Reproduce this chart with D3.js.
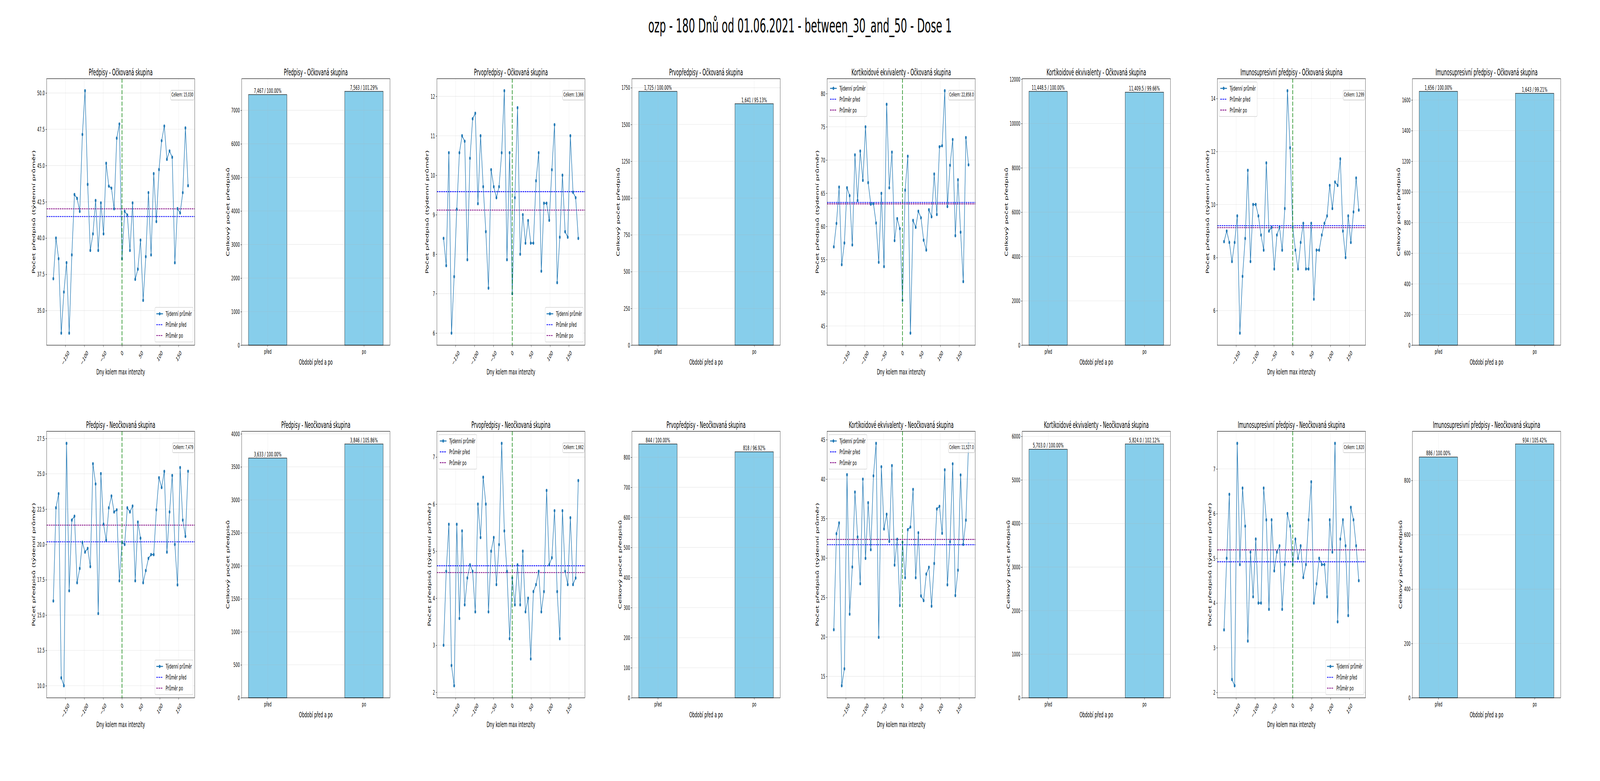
<!DOCTYPE html>
<html>
<head>
<meta charset="utf-8">
<script src="https://cdn.jsdelivr.net/npm/d3@7"></script>
<style>
  html, body { margin: 0; padding: 0; width: 100%; height: 100%; overflow: hidden; background: #fff; }
  #chart { width: 100vw; height: 100vh; }
  svg { display: block; }
  svg text { font-family: "DejaVu Sans", sans-serif; fill: #000; }
</style>
</head>
<body>
<div id="chart"></div>
<script>
// ---- data ----
var SUPTITLE = "ozp - 180 Dnů od 01.06.2021 - between_30_and_50 - Dose 1";
var METRICS = ["Předpisy", "Prvopředpisy", "Kortikoidové ekvivalenty", "Imunosupresivní předpisy"];
var GROUPS = ["Očkovaná skupina", "Neočkovaná skupina"];
var PERIODS = ["před", "po"];
var PERIOD_DAYS = 180;

// days relative to max intensity (weekly points)
var DAYS = [-182, -175, -168, -161, -154, -147, -140, -133, -126, -119, -112, -105, -98,
            -91, -84, -77, -70, -63, -56, -49, -42, -35, -28, -21, -14, -7,
            0, 7, 14, 21, 28, 35, 42, 49, 56, 63, 70, 77, 84, 91, 98, 105, 112,
            119, 126, 133, 140, 147, 154, 161, 168, 175];

// weekly averages - vaccinated group
var predpisyOck = [37.2, 40.0, 38.58, 33.45, 36.28, 38.3, 33.45, 38.84, 43.0, 42.73, 41.84, 47.14, 50.15,
  43.7, 39.15, 40.29, 42.59, 39.15, 42.42, 40.29, 45.15, 43.58, 43.44, 42.02, 46.88, 47.86,
  38.58, 41.85, 41.59, 39.15, 42.42, 37.16, 37.86, 39.86, 35.71, 38.72, 43.13, 38.84, 44.44,
  41.14, 44.72, 46.71, 47.72, 45.43, 46.0, 45.57, 38.3, 42.03, 41.73, 43.13, 47.59, 43.61];
var prvoOck = [8.40, 7.71, 10.57, 6.0, 7.43, 9.14, 10.57, 11.0, 10.86, 7.86, 10.43, 11.43, 11.57,
  9.28, 11.0, 9.71, 8.57, 7.14, 10.14, 9.71, 9.43, 9.71, 10.57, 12.14, 7.86, 10.57,
  7.0, 9.43, 11.71, 8.0, 9.0, 8.28, 8.85, 8.28, 8.28, 9.86, 10.57, 7.57, 9.29,
  9.29, 8.86, 10.14, 11.28, 7.28, 8.43, 10.0, 8.57, 8.43, 11.0, 9.57, 9.43, 8.4];
var kortOck = [56.92, 60.45, 65.91, 54.24, 57.5, 65.81, 64.62, 57.21, 70.76, 63.9, 71.34, 66.94, 74.99,
  66.59, 63.35, 63.42, 60.51, 54.6, 64.97, 53.95, 78.38, 65.81, 71.18, 57.86, 61.16, 59.67,
  48.88, 65.46, 70.56, 43.93, 60.9, 59.86, 62.29, 61.29, 57.93, 56.44, 62.51, 61.45, 67.88,
  61.8, 71.98, 72.15, 80.42, 63.0, 69.2, 73.08, 58.6, 67.01, 59.12, 51.69, 73.37, 69.27];
var imunoOck = [8.60, 9.0, 8.57, 7.85, 8.57, 9.57, 5.15, 7.29, 8.72, 11.29, 7.85, 10.0, 10.0,
  9.57, 8.85, 8.28, 11.57, 9.0, 9.14, 7.57, 8.85, 9.14, 8.28, 9.85, 14.29, 12.14,
  9.14, 8.28, 7.57, 8.57, 9.29, 7.57, 7.57, 9.29, 6.43, 8.28, 8.28, 8.85, 9.29,
  9.57, 10.72, 9.85, 10.85, 10.72, 11.72, 9.0, 8.0, 9.57, 8.57, 9.72, 11.0, 9.79];

// weekly averages - unvaccinated group
var predpisyNeock = [16.0, 22.59, 23.59, 10.56, 10.0, 27.15, 16.72, 21.72, 22.0, 17.29, 18.3, 20.15, 19.46,
  19.72, 18.43, 25.71, 24.28, 15.11, 25.01, 21.44, 20.3, 22.59, 23.43, 22.3, 22.45, 17.43,
  20.15, 20.0, 22.59, 22.3, 22.72, 17.43, 21.58, 20.44, 17.29, 18.15, 19.01, 19.28, 19.28,
  22.45, 24.72, 24.03, 25.17, 19.46, 22.3, 24.88, 20.0, 17.14, 25.44, 21.72, 20.57, 25.18];
var prvoNeock = [3.0, 4.57, 5.57, 2.57, 2.14, 5.57, 3.57, 5.43, 3.86, 4.43, 4.71, 4.57, 3.71,
  6.0, 5.29, 6.57, 6.0, 3.71, 5.0, 5.29, 4.29, 5.14, 7.29, 5.43, 4.57, 3.14,
  4.43, 3.86, 4.71, 3.86, 5.0, 3.71, 4.0, 2.71, 4.14, 4.29, 4.57, 3.71, 4.14,
  6.29, 4.71, 4.86, 5.86, 4.14, 3.14, 5.86, 4.57, 4.29, 5.71, 4.29, 4.43, 6.5];
var kortNeock = [20.92, 33.08, 34.44, 13.82, 15.96, 40.55, 22.89, 28.86, 38.35, 32.66, 26.75, 39.99, 29.96,
  37.0, 31.06, 40.41, 44.52, 19.96, 41.56, 33.68, 35.54, 32.1, 41.7, 29.11, 32.38, 23.99,
  32.0, 27.51, 33.59, 33.93, 38.69, 27.51, 33.2, 25.2, 24.61, 27.96, 28.83, 23.9, 29.31,
  36.21, 36.55, 33.14, 41.17, 26.61, 32.07, 41.93, 25.25, 28.46, 40.52, 31.73, 34.8, 44.44];
var imunoNeock = [3.40, 5.0, 6.43, 2.29, 2.15, 7.57, 4.86, 6.57, 5.72, 3.15, 5.14, 4.14, 5.43,
  4.0, 4.0, 6.57, 5.86, 3.86, 5.86, 4.72, 5.14, 5.28, 3.86, 4.86, 6.0, 5.72,
  4.86, 5.43, 5.0, 5.28, 4.57, 4.86, 5.86, 6.71, 4.0, 4.43, 5.0, 4.86, 4.86,
  4.14, 5.86, 5.14, 7.57, 3.58, 5.43, 5.86, 5.28, 3.72, 6.14, 5.86, 5.28, 4.5];

// totals before / after
var totPredpisyOck = [7467, 7563];
var totPrvoOck = [1725, 1641];
var totKortOck = [11448.5, 11409.5];
var totImunoOck = [1656, 1643];
var totPredpisyNeock = [3633, 3846];
var totPrvoNeock = [844, 818];
var totKortNeock = [5703.0, 5824.0];
var totImunoNeock = [886, 934];

// tick values
var X_TICKS = [-150, -100, -50, 0, 50, 100, 150];
var yTicksPredpisyOck = [35, 37.5, 40, 42.5, 45, 47.5, 50];
var yTicksPrvoOck = [6, 7, 8, 9, 10, 11, 12];
var yTicksKortOck = [45, 50, 55, 60, 65, 70, 75, 80];
var yTicksImunoOck = [6, 8, 10, 12, 14];
var yTicksPredpisyNeock = [10, 12.5, 15, 17.5, 20, 22.5, 25, 27.5];
var yTicksPrvoNeock = [2, 3, 4, 5, 6, 7];
var yTicksKortNeock = [15, 20, 25, 30, 35, 40, 45];
var yTicksImunoNeock = [2, 3, 4, 5, 6, 7];
var barTicksPredpisyOck = [0, 1000, 2000, 3000, 4000, 5000, 6000, 7000];
var barTicksPrvoOck = [0, 250, 500, 750, 1000, 1250, 1500, 1750];
var barTicksKortOck = [0, 2000, 4000, 6000, 8000, 10000, 12000];
var barTicksImunoOck = [0, 200, 400, 600, 800, 1000, 1200, 1400, 1600];
var barTicksPredpisyNeock = [0, 500, 1000, 1500, 2000, 2500, 3000, 3500, 4000];
var barTicksPrvoNeock = [0, 100, 200, 300, 400, 500, 600, 700, 800];
var barTicksKortNeock = [0, 1000, 2000, 3000, 4000, 5000, 6000];
var barTicksImunoNeock = [0, 200, 400, 600, 800];

var LEGEND_LABELS = ["Týdenní průměr", "Průměr před", "Průměr po"];

// per row, per metric
var WEEKLY = [[predpisyOck, prvoOck, kortOck, imunoOck],
              [predpisyNeock, prvoNeock, kortNeock, imunoNeock]];
var TOTALS = [[totPredpisyOck, totPrvoOck, totKortOck, totImunoOck],
              [totPredpisyNeock, totPrvoNeock, totKortNeock, totImunoNeock]];
var Y_TICKS = [[yTicksPredpisyOck, yTicksPrvoOck, yTicksKortOck, yTicksImunoOck],
               [yTicksPredpisyNeock, yTicksPrvoNeock, yTicksKortNeock, yTicksImunoNeock]];
var BAR_TICKS = [[barTicksPredpisyOck, barTicksPrvoOck, barTicksKortOck, barTicksImunoOck],
                 [barTicksPredpisyNeock, barTicksPrvoNeock, barTicksKortNeock, barTicksImunoNeock]];
var METRIC_DEC = [0, 0, 1, 0];
var LEGEND_POS = [["lower right", "lower right", "upper left", "upper left"],
                  ["lower right", "upper left", "upper left", "lower right"]];

// ---- layout / style ----
var FIG_W = 8000, FIG_H = 2000;
var PT = 100 / 72;
var AX_LEFT = 233, AX_STEP = 975.6, AX_W = 741, AX_H = 682.5;
var ROW_TOP = [201.5, 1104.5];
var TICK_LEN = 3.5 * PT, TICK_PAD = 3.5 * PT;
var TICK_FS = 12 * PT, LABEL_FS = 14 * PT, TITLE_FS = 16 * PT, SUP_FS = 36 * PT, BOX_FS = 10 * PT;
var SERIES_COLOR = "#1f77b4";
var LINE_W = 2.5, MEAN_W = 1.5 * PT, MEAN_DASH = "7.7,3.3";
var VLINE_W = 2 * PT, VLINE_DASH = "10.3,4.4";

// the drawing is laid out in 8000x2000 units and stretched onto the window
var svg = d3.select("#chart")
  .append("svg")
    .attr("width", "100%")
    .attr("height", "100%")
    .attr("viewBox", "0 0 " + FIG_W + " " + FIG_H)
    .attr("preserveAspectRatio", "none");

svg.append("rect")
    .attr("width", FIG_W)
    .attr("height", FIG_H)
    .attr("fill", "white");

svg.append("text")
    .attr("x", FIG_W / 2)
    .attr("y", 83)
    .attr("text-anchor", "middle")
    .style("font-size", SUP_FS + "px")
    .text(SUPTITLE);

function numFmt(dec) {
  return dec ? d3.format(",." + dec + "f") : d3.format(",");
}

function tickFmt(ticks) {
  var step = ticks[1] - ticks[0];
  return step % 1 === 0 ? d3.format("d") : d3.format(".1f");
}

// gridlines, frame, titles shared by both chart kinds
function drawGrid(g, x, y, xticks, yticks) {
  var grid = g.append("g")
      .attr("stroke", "#b0b0b0")
      .attr("stroke-opacity", 0.3)
      .attr("stroke-width", 0.8 * PT);
  grid.selectAll(".gx").data(xticks).enter().append("line")
      .attr("x1", function(d) { return x(d); })
      .attr("x2", function(d) { return x(d); })
      .attr("y1", 0).attr("y2", AX_H);
  grid.selectAll(".gy").data(yticks).enter().append("line")
      .attr("x1", 0).attr("x2", AX_W)
      .attr("y1", function(d) { return y(d); })
      .attr("y2", function(d) { return y(d); });
}

function drawYAxis(g, y, ticks, fmt, label) {
  var ax = g.append("g")
    .call(d3.axisLeft(y)
      .tickValues(ticks)
      .tickFormat(fmt)
      .tickSize(TICK_LEN)
      .tickPadding(TICK_PAD)
      .tickSizeOuter(0));
  ax.select(".domain").remove();
  ax.selectAll("line").attr("stroke-width", 0.8 * PT);
  ax.selectAll("text").style("font-size", TICK_FS + "px");

  var maxW = 0;
  ax.selectAll("text").each(function() {
    maxW = Math.max(maxW, this.getComputedTextLength());
  });
  var lx = -(TICK_LEN + TICK_PAD + maxW + 4 * PT + 0.236 * LABEL_FS);
  g.append("text")
      .attr("transform", "translate(" + lx + "," + (AX_H / 2) + ") rotate(-90)")
      .attr("text-anchor", "middle")
      .style("font-size", LABEL_FS + "px")
      .text(label);
}

function drawFrame(g, title) {
  g.append("rect")
      .attr("width", AX_W)
      .attr("height", AX_H)
      .attr("fill", "none")
      .attr("stroke", "black")
      .attr("stroke-width", 0.8 * PT);
  g.append("text")
      .attr("x", AX_W / 2)
      .attr("y", -6 * PT)
      .attr("text-anchor", "middle")
      .style("font-size", TITLE_FS + "px")
      .text(title);
}

function drawLegend(g, pos) {
  var fs = TICK_FS, bp = 0.4 * fs, ls = 0.5 * fs, hl = 2 * fs, hp = 0.8 * fs,
      ap = 0.5 * fs, rowH = 1.17 * fs;
  var styles = [
    {color: SERIES_COLOR, dash: null, width: LINE_W, marker: true},
    {color: "blue", dash: MEAN_DASH, width: MEAN_W, marker: false},
    {color: "purple", dash: MEAN_DASH, width: MEAN_W, marker: false}
  ];
  var lg = g.append("g");
  var box = lg.append("rect");
  var rows = lg.selectAll(".row").data(LEGEND_LABELS).enter().append("g");
  var texts = rows.append("text")
      .attr("dy", "0.35em")
      .style("font-size", fs + "px")
      .text(function(d) { return d; });
  var maxW = 0;
  texts.each(function() { maxW = Math.max(maxW, this.getComputedTextLength()); });

  var w = 2 * bp + hl + hp + maxW, h = 2 * bp + 3 * rowH + 2 * ls;
  var x0 = pos === "upper left" ? ap : AX_W - ap - w;
  var y0 = pos === "upper left" ? ap : AX_H - ap - h;
  lg.attr("transform", "translate(" + x0 + "," + y0 + ")");
  box.attr("width", w).attr("height", h)
      .attr("rx", 0.2 * fs)
      .attr("fill", "white").attr("fill-opacity", 0.8)
      .attr("stroke", "#cccccc").attr("stroke-width", 0.8 * PT);

  rows.attr("transform", function(d, i) {
    return "translate(" + bp + "," + (bp + rowH / 2 + i * (rowH + ls)) + ")";
  });
  texts.attr("x", hl + hp);
  rows.append("line")
      .attr("x1", 0).attr("x2", hl)
      .attr("stroke", function(d, i) { return styles[i].color; })
      .attr("stroke-width", function(d, i) { return styles[i].width; })
      .attr("stroke-dasharray", function(d, i) { return styles[i].dash; });
  rows.filter(function(d, i) { return styles[i].marker; })
    .append("circle")
      .attr("cx", hl / 2)
      .attr("r", 3 * PT)
      .attr("fill", SERIES_COLOR);
}

var clipCount = 0;

function linePanel(g, title, values, yticks, totals, dec, legendPos) {
  var xr = d3.extent(DAYS), xpad = (xr[1] - xr[0]) * 0.05;
  var x = d3.scaleLinear()
    .domain([xr[0] - xpad, xr[1] + xpad])
    .range([0, AX_W]);
  var yr = d3.extent(values), ypad = (yr[1] - yr[0]) * 0.05;
  var y = d3.scaleLinear()
    .domain([yr[0] - ypad, yr[1] + ypad])
    .range([AX_H, 0]);

  drawGrid(g, x, y, X_TICKS, yticks);

  // x axis with rotated labels
  var xa = g.append("g")
      .attr("transform", "translate(0," + AX_H + ")")
    .call(d3.axisBottom(x)
      .tickValues(X_TICKS)
      .tickSize(TICK_LEN)
      .tickSizeOuter(0));
  xa.select(".domain").remove();
  xa.selectAll("line").attr("stroke-width", 0.8 * PT);
  xa.selectAll("text")
      .style("font-size", TICK_FS + "px")
      .attr("y", 0)
      .attr("dy", "0.35em")
      .attr("text-anchor", "middle")
      .attr("transform", function() {
        var tw = this.getComputedTextLength(), th = 1.17 * TICK_FS;
        var off = TICK_LEN + TICK_PAD + (tw + th) * Math.SQRT1_2 / 2;
        return "translate(0," + off + ") rotate(-45)";
      });

  g.append("text")
      .attr("x", AX_W / 2)
      .attr("y", AX_H + 75)
      .attr("text-anchor", "middle")
      .style("font-size", LABEL_FS + "px")
      .text("Dny kolem max intenzity");

  drawYAxis(g, y, yticks, tickFmt(yticks), "Počet předpisů (týdenní průměr)");

  // clip to axes
  var clipId = "clip" + (clipCount++);
  g.append("clipPath").attr("id", clipId)
    .append("rect").attr("width", AX_W).attr("height", AX_H);
  var plot = g.append("g").attr("clip-path", "url(#" + clipId + ")");

  // mean lines before / after
  var means = totals.map(function(t) { return t / PERIOD_DAYS; });
  plot.selectAll(".mean").data(means).enter().append("line")
      .attr("x1", 0).attr("x2", AX_W)
      .attr("y1", function(d) { return y(d); })
      .attr("y2", function(d) { return y(d); })
      .attr("stroke", function(d, i) { return i === 0 ? "blue" : "purple"; })
      .attr("stroke-width", MEAN_W)
      .attr("stroke-dasharray", MEAN_DASH);

  // weekly series
  plot.append("path")
      .datum(values)
      .attr("fill", "none")
      .attr("stroke", SERIES_COLOR)
      .attr("stroke-width", LINE_W)
      .attr("stroke-linejoin", "round")
      .attr("d", d3.line()
        .x(function(d, i) { return x(DAYS[i]); })
        .y(function(d) { return y(d); }));
  plot.selectAll(".pt").data(values).enter().append("circle")
      .attr("cx", function(d, i) { return x(DAYS[i]); })
      .attr("cy", function(d) { return y(d); })
      .attr("r", 3 * PT)
      .attr("fill", SERIES_COLOR);

  // day zero marker
  plot.append("line")
      .attr("x1", x(0)).attr("x2", x(0))
      .attr("y1", 0).attr("y2", AX_H)
      .attr("stroke", "green")
      .attr("stroke-width", VLINE_W)
      .attr("stroke-dasharray", VLINE_DASH);

  drawFrame(g, title);
  drawLegend(g, legendPos);

  // total box in the upper right
  var pad = 0.3 * BOX_FS;
  var bg = g.append("g");
  var bx = bg.append("rect");
  var bt = bg.append("text")
      .attr("x", AX_W * 0.99)
      .attr("y", AX_H * 0.05 + 0.83 * BOX_FS)
      .attr("text-anchor", "end")
      .style("font-size", BOX_FS + "px")
      .text("Celkem: " + numFmt(dec)(d3.sum(totals)));
  var tw = bt.node().getComputedTextLength();
  bx.attr("x", AX_W * 0.99 - tw - pad)
      .attr("y", AX_H * 0.05 - pad)
      .attr("width", tw + 2 * pad)
      .attr("height", 1.17 * BOX_FS + 2 * pad)
      .attr("rx", pad)
      .attr("fill", "white").attr("fill-opacity", 0.8)
      .attr("stroke", "#b8b8b8").attr("stroke-width", 1.2);
}

function barPanel(g, title, totals, yticks, dec) {
  var x = d3.scaleLinear()
    .domain([-0.27, 1.27])
    .range([0, AX_W]);
  var y = d3.scaleLinear()
    .domain([0, d3.max(totals) * 1.05])
    .range([AX_H, 0]);
  var fmt = numFmt(dec);

  g.selectAll(".bar").data(totals).enter().append("rect")
      .attr("x", function(d, i) { return x(i - 0.2); })
      .attr("width", x(0.4) - x(0))
      .attr("y", function(d) { return y(d); })
      .attr("height", function(d) { return AX_H - y(d); })
      .attr("fill", "#87ceeb")
      .attr("stroke", "black")
      .attr("stroke-width", 1.2);

  // grid sits above the bars, like matplotlib's default
  drawGrid(g, x, y, [0, 1], yticks);

  g.selectAll(".blabel").data(totals).enter().append("text")
      .attr("x", function(d, i) { return x(i); })
      .attr("y", function(d) { return y(d) - 4; })
      .attr("text-anchor", "middle")
      .style("font-size", TICK_FS + "px")
      .text(function(d) {
        return fmt(d) + " / " + (d / totals[0] * 100).toFixed(2) + "%";
      });

  var xa = g.append("g")
      .attr("transform", "translate(0," + AX_H + ")")
    .call(d3.axisBottom(x)
      .tickValues([0, 1])
      .tickFormat(function(d) { return PERIODS[d]; })
      .tickSize(TICK_LEN)
      .tickPadding(TICK_PAD)
      .tickSizeOuter(0));
  xa.select(".domain").remove();
  xa.selectAll("line").attr("stroke-width", 0.8 * PT);
  xa.selectAll("text").style("font-size", TICK_FS + "px");

  g.append("text")
      .attr("x", AX_W / 2)
      .attr("y", AX_H + 50)
      .attr("text-anchor", "middle")
      .style("font-size", LABEL_FS + "px")
      .text("Období před a po");

  drawYAxis(g, y, yticks, d3.format("d"), "Celkový počet předpisů");
  drawFrame(g, title);
}

// build the 2 x 8 grid
GROUPS.forEach(function(group, r) {
  METRICS.forEach(function(metric, m) {
    var title = metric + " - " + group;
    var gl = svg.append("g")
        .attr("transform", "translate(" + (AX_LEFT + AX_STEP * (2 * m)) + "," + ROW_TOP[r] + ")");
    linePanel(gl, title, WEEKLY[r][m], Y_TICKS[r][m], TOTALS[r][m], METRIC_DEC[m], LEGEND_POS[r][m]);
    var gb = svg.append("g")
        .attr("transform", "translate(" + (AX_LEFT + AX_STEP * (2 * m + 1)) + "," + ROW_TOP[r] + ")");
    barPanel(gb, title, TOTALS[r][m], BAR_TICKS[r][m], METRIC_DEC[m]);
  });
});
</script>
</body>
</html>
